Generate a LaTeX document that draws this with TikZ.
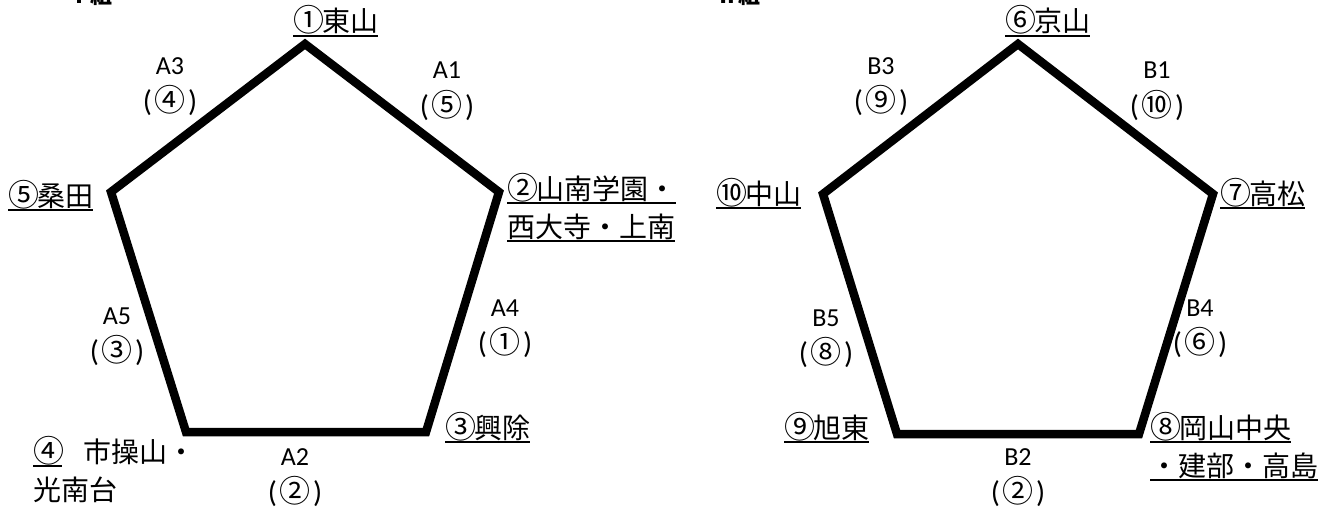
\documentclass[tikz,border=0pt]{standalone}
\usepackage{fontspec}
\setmainfont{Carlito}
\newfontfamily\cjk{Noto Sans CJK JP}
\newcommand\myul[1]{\setbox0\hbox{#1}\rlap{\rule[-5pt]{\wd0}{1.6pt}}\box0}
\newcommand\cn[1]{{\fontsize{31}{38}\selectfont #1}\kern-2pt}
\newcommand\pc[1]{{\fontsize{30}{37}\selectfont(\kern2.5pt{\cjk\fontsize{31}{37}\selectfont #1}\kern2.5pt)}}
\begin{document}
\begin{tikzpicture}[x=1pt,y=-1pt,
  pent/.style={line width=8.5pt, line join=miter},
  stn/.style={font=\cjk\fontsize{28}{38}\selectfont, inner sep=0pt, align=left, anchor=base west},
  elbl/.style={font=\fontsize{26}{37}\selectfont, inner sep=0pt, align=center, anchor=base},
  grp/.style={font=\cjk\bfseries\fontsize{22}{26}\selectfont, inner sep=0pt, anchor=base west}]
\useasboundingbox (0,0) rectangle (1331,511);
\clip (0,0) rectangle (1331,511);
% group titles (cut off at the top)
\node[grp] (g1) at (68,4) {Ⅰ組};
\node[grp] (g2) at (716,4) {Ⅱ組};
% pentagon I
\coordinate (a1) at (305,44);
\coordinate (a2) at (499,192);
\coordinate (a3) at (426,432);
\coordinate (a4) at (186,432);
\coordinate (a5) at (111,192);
\draw[pent] (a1) -- (a2) -- (a3) -- (a4) -- (a5) -- cycle;
% pentagon II
\coordinate (b1) at (1018,44);
\coordinate (b2) at (1213,194);
\coordinate (b3) at (1139,434);
\coordinate (b4) at (897,434);
\coordinate (b5) at (823,194);
\draw[pent] (b1) -- (b2) -- (b3) -- (b4) -- (b5) -- cycle;
% station labels I (base = baseline of last line)
\node[stn] (s1) at (293,32) {\myul{\cn{①}東山}};
\node[stn] (s2) at (507,237) {\myul{\cn{②}山南学園・}\\\myul{西大寺・上南}};
\node[stn] (s3) at (445,438) {\myul{\cn{③}興除}};
\node[stn] (s4) at (33,500) {\myul{\cn{④}}\hspace{0.75em}市操山・\\光南台};
\node[stn] (s5) at (8,206) {\myul{\cn{⑤}桑田}};
% station labels II
\node[stn] (s6) at (1005,32) {\myul{\cn{⑥}京山}};
\node[stn] (s7) at (1220,204) {\myul{\cn{⑦}高松}};
\node[stn] (s8) at (1150,476) {\myul{\cn{⑧}岡山中央}\\\myul{・建部・高島}};
\node[stn] (s9) at (784,438) {\myul{\cn{⑨}旭東}};
\node[stn] (s10) at (716,204) {\myul{\cn{⑩}中山}};
% edge labels I
\node[elbl] (e1) at (447,116) {A1\\\pc{⑤}};
\node[elbl] (e2) at (295,502) {A2\\\pc{②}};
\node[elbl] (e3) at (170,111) {A3\\\pc{④}};
\node[elbl] (e4) at (505,353) {A4\\\pc{①}};
\node[elbl] (e5) at (117,361) {A5\\\pc{③}};
% edge labels II
\node[elbl] (f1) at (1157,116) {B1\\\pc{⑩}};
\node[elbl] (f2) at (1018,502) {B2\\\pc{②}};
\node[elbl] (f3) at (881,111) {B3\\\pc{⑨}};
\node[elbl] (f4) at (1200,353) {B4\\\pc{⑥}};
\node[elbl] (f5) at (826,363) {B5\\\pc{⑧}};
\end{tikzpicture}
\end{document}
